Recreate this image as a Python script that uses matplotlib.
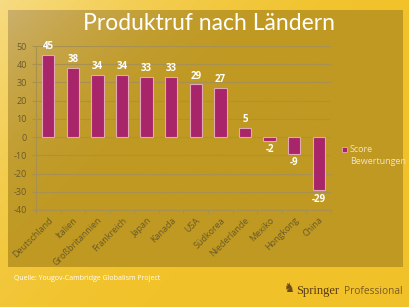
import matplotlib.pyplot as plt
import numpy as np
from matplotlib.patches import Rectangle

countries = ['Deutschland', 'Italien', 'Großbritannien', 'Frankreich', 'Japan',
             'Kanada', 'USA', 'Südkorea', 'Niederlande', 'Mexiko', 'Hongkong', 'China']
scores = [45, 38, 34, 34, 33, 33, 29, 27, 5, -2, -9, -29]
yticks = np.arange(-40, 51, 10)

plt.rcParams['font.family'] = ['Open Sans', 'DejaVu Sans']
plt.rcParams['axes.unicode_minus'] = False

fig = plt.figure(figsize=(4.1, 3.07), dpi=100)

# background with gradients
bg = fig.add_axes([0, 0, 1, 1], zorder=-10)
bg.set_axis_off()
gx, gy = np.meshgrid(np.linspace(0, 1, 200), np.linspace(1, 0, 150))
d = np.clip(1 - (gx * 0.9 + (1 - gy) * 0.6), 0, 1) ** 2
outer_a = np.array([0.945, 0.76, 0.16])
outer_b = np.array([0.97, 0.87, 0.55])
img = outer_a + (outer_b - outer_a) * d[..., None] * 0.9
bg.imshow(img, extent=[0, 1, 0, 1], aspect='auto', zorder=0)
inner_a = np.array([0.75, 0.60, 0.13])
inner_b = np.array([0.80, 0.69, 0.42])
d2 = np.clip(1 - (gx * 1.3 + (1 - gy) * 0.9), 0, 1) ** 2
img2 = inner_a + (inner_b - inner_a) * d2[..., None]
bg.imshow(img2, extent=[8 / 410, 403 / 410, 1 - 267 / 307, 1 - 10 / 307],
          aspect='auto', zorder=1)
bg.set_xlim(0, 1)
bg.set_ylim(0, 1)

fig.text(209 / 410, 1 - 24 / 307, 'Produktruf nach Ländern', ha='center', va='center',
         color='white', fontsize=16.5, family=['Lato', 'DejaVu Sans'])

ax = fig.add_axes([36 / 410, 1 - 210 / 307, 295 / 410, 164 / 307])
ax.patch.set_alpha(0)
x = np.arange(len(countries))
bars = ax.bar(x, scores, width=0.5, color='#A8256A', edgecolor='#E2A8B4',
              linewidth=0.8, zorder=3)
for xi, v in zip(x, scores):
    if v >= 0:
        ax.text(xi, v + 1.5, str(v), ha='center', va='bottom', color='white',
                fontsize=7, fontweight='bold')
    else:
        ax.text(xi, v - 2, str(v), ha='center', va='top', color='white',
                fontsize=7, fontweight='bold')

ax.set_xlim(-0.5, len(countries) - 0.5)
ax.set_ylim(-40, 50)
ax.set_yticks(yticks)
ax.yaxis.grid(True, color='#A89050', linewidth=0.8, zorder=0)
ax.tick_params(axis='y', labelsize=6.5, labelcolor='#6B5A2A', color='#A89050', length=3)
ax.set_xticks(x)
ax.set_xticklabels(countries, rotation=45, ha='right', rotation_mode='anchor',
                   fontsize=6.5, color='#6B5A2A')
ax.set_xticks(np.arange(-0.5, len(countries), 1), minor=True)
ax.tick_params(axis='x', which='major', length=0, pad=4)
ax.tick_params(axis='x', which='minor', length=3, color='#A89050')
for s in ['top', 'right']:
    ax.spines[s].set_visible(False)
for s in ['left', 'bottom']:
    ax.spines[s].set_color('#A89050')
    ax.spines[s].set_linewidth(0.8)

# legend
fig.patches.append(Rectangle((342 / 410, 1 - 152 / 307), 5 / 410, 5 / 307,
                             transform=fig.transFigure, facecolor='#A8256A',
                             edgecolor='#E2A8B4', linewidth=0.6))
fig.text(350 / 410, 1 - 149 / 307, 'Score', color='#F3E4C4', fontsize=6.5, va='center')
fig.text(350 / 410, 1 - 162 / 307, 'Bewertungen', color='#F3E4C4', fontsize=6.5, va='center')

fig.text(14 / 410, 1 - 278 / 307, 'Quelle: Yougov-Cambridge Globalism Project',
         color='white', fontsize=5, va='center')
fig.text(296 / 410, 1 - 291 / 307, 'Springer', color='#5A3A12', fontsize=9,
         family=['Liberation Serif', 'DejaVu Serif'], va='center')
fig.text(344 / 410, 1 - 291 / 307, 'Professional', color='#7A5A22', fontsize=7.3,
         va='center')
fig.text(283 / 410, 1 - 289 / 307, '♞', color='#6A4A18', fontsize=9, va='center',
         family=['DejaVu Sans'])

fig.savefig('out.png', dpi=100)
